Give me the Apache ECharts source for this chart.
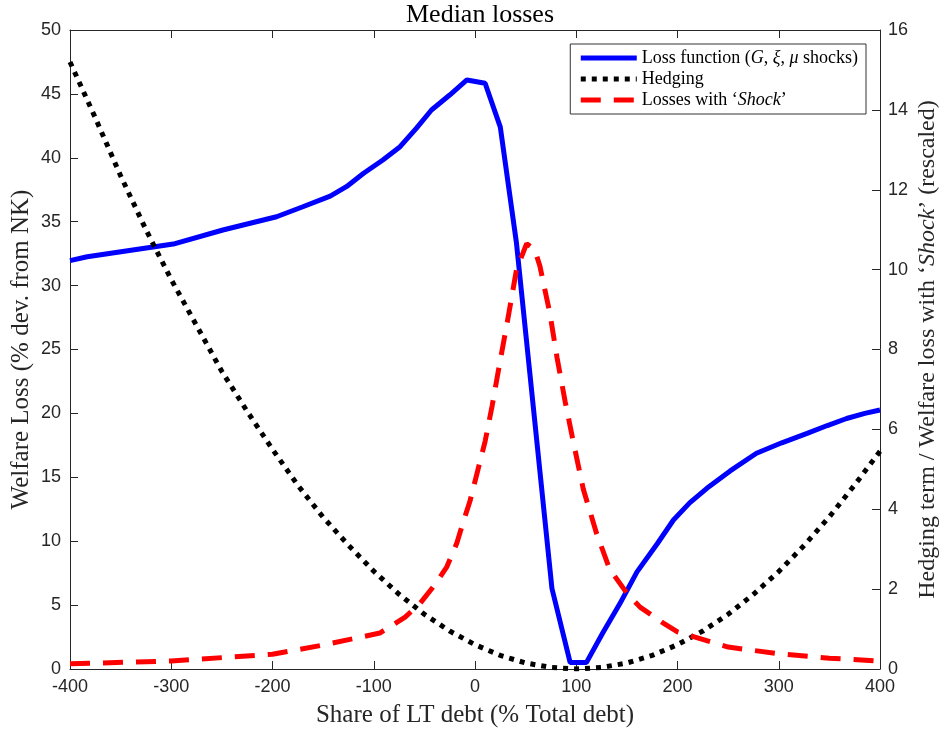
<!DOCTYPE html>
<html>
<head>
<meta charset="utf-8">
<script src="https://cdn.jsdelivr.net/npm/echarts@6/dist/echarts.min.js"></script>
<style>
  html, body { margin: 0; padding: 0; background: #fff; }
  #chart { width: 941px; height: 734px; }
</style>
</head>
<body>
<div id="chart"></div>
<script>
// x positions are share of LT debt (% total debt)
const lossX = [-400, -383, -298, -249, -196, -170, -143, -127, -110, -91, -74, -58, -43, -25, -8, 10, 25, 41, 76, 94, 110, 126, 143, 160, 180, 196, 212, 229, 252, 278, 303, 328, 348, 367, 385, 400];
const lossY = [31.95, 32.26, 33.25, 34.35, 35.39, 36.17, 37.0, 37.74, 38.79, 39.83, 40.87, 42.31, 43.74, 44.91, 46.09, 45.83, 42.4, 33.3, 6.3, 0.5, 0.5, 2.8, 5.1, 7.6, 9.8, 11.66, 13.0, 14.14, 15.5, 16.88, 17.7, 18.44, 19.05, 19.6, 20.0, 20.27];

const hedgeX = [-400, -375, -350, -325, -300, -275, -250, -225, -200, -175, -150, -125, -100, -75, -50, -25, 0, 25, 50, 75, 100, 125, 150, 175, 200, 225, 250, 275, 300, 325, 350, 375, 400];
const hedgeY = [15.2, 13.8, 12.35, 11.0, 9.75, 8.6, 7.45, 6.45, 5.5, 4.6, 3.8, 3.1, 2.45, 1.87, 1.37, 0.95, 0.61, 0.34, 0.15, 0.04, 0, 0.04, 0.15, 0.34, 0.61, 0.95, 1.37, 1.87, 2.44, 3.09, 3.81, 4.61, 5.45];

const shockX = [-400, -300, -200, -150, -94, -69, -54, -40, -28, -18, -12, -5, 2, 10, 17, 24, 32, 41, 51, 59, 64, 74, 81, 89, 97, 107, 120, 133, 150, 163, 186, 200, 250, 300, 350, 400];
const shockY = [0.13, 0.2, 0.37, 0.6, 0.9, 1.3, 1.65, 2.1, 2.55, 3.15, 3.65, 4.2, 4.9, 5.7, 6.6, 7.6, 8.7, 10.0, 10.65, 10.5, 10.1, 8.9, 7.8, 6.7, 5.7, 4.5, 3.4, 2.5, 1.9, 1.55, 1.15, 0.93, 0.55, 0.38, 0.27, 0.2];

const pairs = (xs, ys) => xs.map((x, i) => [x, ys[i]]);

const axisColor = '#262626';
const tickFont = { color: axisColor, fontSize: 18, fontFamily: 'Liberation Sans, Arial, sans-serif' };
const serif = 'Liberation Serif, Times New Roman, serif';

const chart = echarts.init(document.getElementById('chart'));

function makeOption() {
  const axisLine = { show: true, onZero: false, lineStyle: { color: axisColor, width: 1 } };
  const axisTick = { show: true, inside: true, length: 8, lineStyle: { color: axisColor, width: 1 } };

  return {
    animation: false,
    backgroundColor: '#fff',
    title: {
      text: 'Median losses',
      left: 475,
      textAlign: 'center',
      top: -3,
      textStyle: { fontFamily: serif, fontWeight: 'normal', fontSize: 26, color: '#000' }
    },
    legend: {
      orient: 'vertical',
      right: 75,
      top: 44,
      padding: [5, 8, 5, 8],
      itemGap: 3,
      itemWidth: 56,
      itemHeight: 14,
      borderColor: '#333',
      borderWidth: 1,
      backgroundColor: '#fff',
      itemStyle: { opacity: 0 },
      lineStyle: { width: 5 },
      textStyle: {
        fontFamily: serif,
        fontSize: 18,
        lineHeight: 18,
        color: '#000',
        rich: {
          i: { fontFamily: serif, fontStyle: 'italic', fontSize: 18, lineHeight: 18, color: '#000' }
        }
      },
      formatter: function (name) {
        if (name === 'Hedging') return 'Hedging';
        if (name === 'Losses with Shock') return 'Losses with \u2018{i|Shock}\u2019';
        return 'Loss function ({i|G}, {i|\u03be}, {i|\u03bc} shocks)';
      },
      data: ['Loss function', 'Hedging', 'Losses with Shock']
    },
    grid: { left: 70, right: 61, top: 30, bottom: 65, containLabel: false, outerBoundsMode: 'none' },
    xAxis: [
      {
        type: 'value',
        min: -400,
        max: 400,
        interval: 100,
        position: 'bottom',
        axisLine: axisLine,
        axisTick: axisTick,
        splitLine: { show: false },
        axisLabel: Object.assign({ margin: 9 }, tickFont),
        name: 'Share of LT debt (% Total debt)',
        nameLocation: 'middle',
        nameGap: 34,
        nameTextStyle: { fontFamily: serif, fontSize: 25, color: '#262626' }
      },
      {
        type: 'value',
        min: -400,
        max: 400,
        interval: 100,
        position: 'top',
        axisLine: axisLine,
        axisTick: axisTick,
        splitLine: { show: false },
        axisLabel: { show: false }
      }
    ],
    yAxis: [
      {
        type: 'value',
        min: 0,
        max: 50,
        interval: 5,
        position: 'left',
        axisLine: axisLine,
        axisTick: axisTick,
        splitLine: { show: false },
        axisLabel: Object.assign({ margin: 9 }, tickFont),
        name: 'Welfare Loss (% dev. from NK)',
        nameLocation: 'middle',
        nameRotate: 90,
        nameGap: 36,
        nameMoveOverlap: false,
        nameTextStyle: { fontFamily: serif, fontSize: 25, color: '#262626' }
      },
      {
        type: 'value',
        min: 0,
        max: 16,
        interval: 2,
        position: 'right',
        axisLine: axisLine,
        axisTick: axisTick,
        splitLine: { show: false },
        axisLabel: Object.assign({ margin: 8 }, tickFont),
        name: 'Hedging term / Welfare loss with \u2018{i|Shock}\u2019 (rescaled)',
        nameLocation: 'middle',
        nameRotate: 90,
        nameGap: 36,
        nameMoveOverlap: false,
        nameTextStyle: {
          fontFamily: serif, fontSize: 24, color: '#262626',
          rich: { i: { fontFamily: serif, fontStyle: 'italic', fontSize: 24, color: '#262626' } }
        }
      }
    ],
    series: [
      {
        name: 'Loss function',
        type: 'line',
        xAxisIndex: 0,
        yAxisIndex: 0,
        symbol: 'none',
        color: '#0000ff',
        lineStyle: { color: '#0000ff', width: 5 },
        data: pairs(lossX, lossY)
      },
      {
        name: 'Hedging',
        type: 'line',
        xAxisIndex: 0,
        yAxisIndex: 1,
        symbol: 'none',
        color: '#000',
        lineStyle: { color: '#000', width: 5, type: [5, 6] },
        data: pairs(hedgeX, hedgeY)
      },
      {
        name: 'Losses with Shock',
        type: 'line',
        xAxisIndex: 0,
        yAxisIndex: 1,
        symbol: 'none',
        color: '#ff0000',
        lineStyle: { color: '#ff0000', width: 5, type: [20, 13] },
        data: pairs(shockX, shockY)
      }
    ]
  };
}

chart.setOption(makeOption());
</script>
</body>
</html>
